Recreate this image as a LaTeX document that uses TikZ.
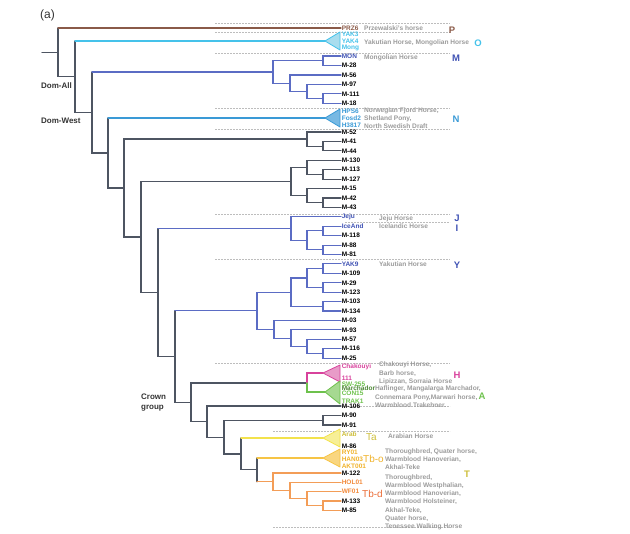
\documentclass[tikz,border=0pt]{standalone}
\usepackage{fontspec}
\setmainfont{Liberation Sans}
\usetikzlibrary{calc}

\definecolor{brn}{HTML}{8A5A48}
\definecolor{cyn}{HTML}{45C2EA}
\definecolor{cynfill}{HTML}{A9DDEE}
\definecolor{blu}{HTML}{5B6CC4}
\definecolor{blutxt}{HTML}{3F52B4}
\definecolor{nblu}{HTML}{3A9AD6}
\definecolor{nfill}{HTML}{78B9E3}
\definecolor{gry}{HTML}{4E5562}
\definecolor{pnk}{HTML}{D8429C}
\definecolor{pnkfill}{HTML}{E89BC8}
\definecolor{grn}{HTML}{6DC14C}
\definecolor{grnfill}{HTML}{A6D991}
\definecolor{yel}{HTML}{F3E24C}
\definecolor{yelfill}{HTML}{F7EF97}
\definecolor{olv}{HTML}{CDBE3A}
\definecolor{gld}{HTML}{F6C445}
\definecolor{gldfill}{HTML}{F9D680}
\definecolor{gldtxt}{HTML}{F0B22A}
\definecolor{org}{HTML}{F39D57}
\definecolor{orgtxt}{HTML}{F28A3C}
\definecolor{tbd}{HTML}{EA6B35}
\definecolor{descgray}{HTML}{9B9B9B}
\definecolor{sepgray}{HTML}{BDBDBD}

\tikzset{
  br/.style={line width=1.1pt, line cap=round},
  tri/.style={line width=0.8pt, line join=round},
  leaf/.style={anchor=west, inner sep=0.6pt, font=\bfseries\fontsize{6.5}{7}\selectfont},
  desc/.style={anchor=north west, inner sep=0pt, align=left, text=descgray, font=\bfseries\fontsize{6.6}{8.2}\selectfont},
  grp/.style={inner sep=0pt, font=\bfseries\fontsize{9.5}{10}\selectfont},
  sub/.style={anchor=west, inner sep=0pt, font=\fontsize{10}{10}\selectfont},
  cladename/.style={anchor=west, inner sep=0pt, text=black!80, font=\bfseries\fontsize{8}{9.5}\selectfont},
  sep/.style={draw=sepgray, line width=0.6pt, dash pattern=on 1.6pt off 1.4pt},
}
% vertical part in #1, horizontal part in #2
\newcommand{\elbow}[4]{\draw[br,#1] (#3) -- (#3 |- #4); \draw[br,#2] (#3 |- #4) -- (#4);}

\begin{document}
\begin{tikzpicture}[x=1pt,y=-1pt]
			\useasboundingbox (0,0) rectangle (630,534);
			%%%%% START %%%%%
			
			\node[anchor=west, inner sep=0pt, text=black!80, font=\fontsize{12}{12}\selectfont] (panel) at (40,15) {(a)};
			\node[cladename] (domall) at (41,86) {Dom-All};
			\node[cladename] (domwest) at (41,121) {Dom-West};
			\node[cladename, align=left] (crown) at (141,402.5) {Crown\\group};
			
			\foreach \y in {23,32,53,108,129,214,259,363} \draw[sep] (215,\y) -- (450,\y);
			\foreach \y in {222} \draw[sep] (345,\y) -- (450,\y);
			\foreach \y in {406,431,527} \draw[sep] (273,\y) -- (450,\y);
			
			% backbone
			\coordinate (stem) at (42,52.4);
			\coordinate (n0) at (58,52.4);
			\coordinate (n1) at (75,76.8);
			\coordinate (n2) at (92,112.5);
			\coordinate (n3) at (108,153);
			\coordinate (n4) at (124,188);
			\coordinate (n5) at (141,237);
			\coordinate (n6) at (158,292.5);
			\coordinate (n7) at (175,356.5);
			\coordinate (n8) at (191,402.3);
			\coordinate (n9) at (207,421.6);
			\coordinate (n10) at (224,437.1);
			\coordinate (n11) at (241,454);
			\coordinate (n12) at (257,469.9);
			
			% clades
			\coordinate (oapex) at (325,41);
			\coordinate (napex) at (325,118);
			\coordinate (hapex) at (323,373);
			\coordinate (gapex) at (325,392);
			\coordinate (aapex) at (323,438);
			\coordinate (tapex) at (323,458);
			\coordinate (mA) at (273,72);
			\coordinate (mB) at (323,60.8);
			\coordinate (mC) at (290,83.2);
			\coordinate (mD) at (307,91.5);
			\coordinate (mE) at (323,98.5);
			\coordinate (kA) at (307,139);
			\coordinate (kB) at (323,146.1);
			\coordinate (pA) at (291,181.5);
			\coordinate (pB) at (307,167.3);
			\coordinate (pC) at (323,174.4);
			\coordinate (pD) at (307,195.6);
			\coordinate (pE) at (323,202.7);
			\coordinate (jA) at (291,228.6);
			\coordinate (jB) at (307,240.3);
			\coordinate (jC) at (323,230.9);
			\coordinate (jD) at (323,249.8);
			\coordinate (yR) at (257,310.7);
			\coordinate (yA) at (291,292.2);
			\coordinate (yB) at (307,278);
			\coordinate (yC) at (323,268.6);
			\coordinate (yD) at (323,287.5);
			\coordinate (yE) at (323,306.3);
			\coordinate (zA) at (274,329.3);
			\coordinate (zB) at (291,338.1);
			\coordinate (zC) at (307,346.4);
			\coordinate (zD) at (323,353.4);
			\coordinate (hA) at (307,383);
			\coordinate (vA) at (323,420.3);
			\coordinate (oA) at (273,481.8);
			\coordinate (oB) at (290,490.5);
			\coordinate (oC) at (307,498.7);
			\coordinate (oD) at (323,505.8);
			
			% tips
			\node[leaf, text=brn] (prz) at (341,28) {PRZ6};
			\node[leaf, text=cyn] (yak3) at (341,34.5) {YAK3};
			\node[leaf, text=cyn] (yak4) at (341,41) {YAK4};
			\node[leaf, text=cyn] (mong) at (341,47.5) {Mong};
			\node[leaf, text=blutxt] (mon) at (341,56) {MON};
			\node[leaf] (m28) at (341,65.5) {M-28};
			\node[leaf] (m56) at (341,75) {M-56};
			\node[leaf] (m97) at (341,84.4) {M-97};
			\node[leaf] (m111) at (341,93.8) {M-111};
			\node[leaf] (m18) at (341,103.2) {M-18};
			\node[leaf, text=nblu] (hps6) at (341,111) {HPS6};
			\node[leaf, text=nblu] (fosd2) at (341,118) {Fosd2};
			\node[leaf, text=nblu] (h3817) at (341,125) {H3817};
			\node[leaf] (m52) at (341,132) {M-52};
			\node[leaf] (m41) at (341,141.4) {M-41};
			\node[leaf] (m44) at (341,150.8) {M-44};
			\node[leaf] (m130) at (341,160.3) {M-130};
			\node[leaf] (m113) at (341,169.7) {M-113};
			\node[leaf] (m127) at (341,179.1) {M-127};
			\node[leaf] (m15) at (341,188.5) {M-15};
			\node[leaf] (m42) at (341,198) {M-42};
			\node[leaf] (m43) at (341,207.4) {M-43};
			\node[leaf, text=blutxt] (jeju) at (341,216.8) {Jeju};
			\node[leaf, text=blutxt] (iceand) at (341,226.2) {IceAnd};
			\node[leaf] (m118) at (341,235.6) {M-118};
			\node[leaf] (m88) at (341,245.1) {M-88};
			\node[leaf] (m81) at (341,254.5) {M-81};
			\node[leaf, text=blutxt] (yak9) at (341,263.9) {YAK9};
			\node[leaf] (m109) at (341,273.3) {M-109};
			\node[leaf] (m29) at (341,282.8) {M-29};
			\node[leaf] (m123) at (341,292.2) {M-123};
			\node[leaf] (m103) at (341,301.6) {M-103};
			\node[leaf] (m134) at (341,311) {M-134};
			\node[leaf] (m03) at (341,320.4) {M-03};
			\node[leaf] (m93) at (341,329.9) {M-93};
			\node[leaf] (m57) at (341,339.3) {M-57};
			\node[leaf] (m116) at (341,348.7) {M-116};
			\node[leaf] (m25) at (341,358.1) {M-25};
			\node[leaf] (m106) at (341,406) {M-106};
			\node[leaf] (m90) at (341,415.5) {M-90};
			\node[leaf] (m91) at (341,425) {M-91};
			\node[leaf] (m122) at (341,473) {M-122};
			\node[leaf, text=orgtxt] (hol) at (341,482.3) {HOL01};
			\node[leaf, text=orgtxt] (wf) at (341,491.7) {WF01};
			\node[leaf] (m133) at (341,501) {M-133};
			\node[leaf] (m85) at (341,510.5) {M-85};
			
			% collapsed clades
			\draw[tri, draw=cyn, fill=cynfill] (oapex) -- (340,32) -- (340,50) -- cycle;
			\draw[tri, draw=nblu, fill=nfill] (napex) -- (340,109) -- (340,127) -- cycle;
			\draw[tri, draw=pnk, fill=pnkfill] (hapex) -- (340,365) -- (340,382) -- cycle;
			\draw[tri, draw=grn, fill=grnfill] (gapex) -- (340,381) -- (340,404) -- cycle;
			\draw[tri, draw=yel, fill=yelfill] (aapex) -- (340,429) -- (340,447) -- cycle;
			\draw[tri, draw=gld, fill=gldfill] (tapex) -- (340,449) -- (340,467) -- cycle;
			
			\node[leaf, text=pnk] (chak) at (341,367) {Chakouyi};
			\node[leaf, text=pnk] (p111) at (341,378) {111};
			\node[leaf, text=grn] (sw255) at (341,384) {SW-255};
			\node[leaf, text=grn!70!black] (march) at (341,388.5) {Marchador};
			\node[leaf, text=grn] (con15) at (341,393) {CON15};
			\node[leaf, text=grn] (trak1) at (341,401) {TRAK1};
			\node[leaf, text=olv] (arab) at (341,434) {Arab};
			\node[leaf] (m86) at (341,446) {M-86};
			\node[leaf, text=gldtxt] (ry01) at (341,452) {RY01};
			\node[leaf, text=gldtxt] (han03) at (341,459) {HAN03};
			\node[leaf, text=gldtxt] (akt) at (341,466) {AKT001};
			
			% branches
			\draw[br,gry] (stem) -- (n0);
			\elbow{gry}{brn}{n0}{prz.west}
			\draw[br,gry] (n0) |- (n1);
			\elbow{gry}{cyn}{n1}{oapex}
			\draw[br,gry] (n1) |- (n2);
			\elbow{gry}{blu}{n2}{mA}
			\draw[br,gry] (n2) |- (n3);
			\elbow{gry}{nblu}{n3}{napex}
			\draw[br,gry] (n3) |- (n4) (n4) |- (kA) (n4) |- (n5) (n5) |- (pA) (n5) |- (n6);
			\elbow{gry}{blu}{n6}{jA}
			\draw[br,gry] (n6) |- (n7);
			\elbow{gry}{blu}{n7}{yR}
			\draw[br,gry] (n7) |- (n8) (n8) |- (hA) (n8) |- (n9) (n9) |- (m106.west) (n9) |- (n10) (n10) |- (vA) (n10) |- (n11);
			\elbow{gry}{yel}{n11}{aapex}
			\draw[br,gry] (n11) |- (n12);
			\elbow{gry}{gld}{n12}{tapex}
			\elbow{gry}{org}{n12}{oA}
			
			\draw[br,blu] (mA) |- (mB) (mA) |- (mC) (mB) |- (mon.west) (mB) |- (m28.west) (mC) |- (m56.west) (mC) |- (mD) (mD) |- (m97.west) (mD) |- (mE) (mE) |- (m111.west) (mE) |- (m18.west);
			\draw[br,gry] (kA) |- (m52.west) (kA) |- (kB) (kB) |- (m41.west) (kB) |- (m44.west);
			\draw[br,gry] (pA) |- (pB) (pA) |- (pD) (pB) |- (m130.west) (pB) |- (pC) (pC) |- (m113.west) (pC) |- (m127.west) (pD) |- (m15.west) (pD) |- (pE) (pE) |- (m42.west) (pE) |- (m43.west);
			\draw[br,blu] (jA) |- (jeju.west) (jA) |- (jB) (jB) |- (jC) (jB) |- (jD) (jC) |- (iceand.west) (jC) |- (m118.west) (jD) |- (m88.west) (jD) |- (m81.west);
			\draw[br,blu] (yR) |- (yA) (yR) |- (zA) (yA) |- (yB) (yA) |- (yE) (yB) |- (yC) (yB) |- (yD) (yC) |- (yak9.west) (yC) |- (m109.west) (yD) |- (m29.west) (yD) |- (m123.west) (yE) |- (m103.west) (yE) |- (m134.west);
			\draw[br,blu] (zA) |- (m03.west) (zA) |- (zB) (zB) |- (m93.west) (zB) |- (zC) (zC) |- (m57.west) (zC) |- (zD) (zD) |- (m116.west) (zD) |- (m25.west);
			\draw[br,pnk] (hA) |- (hapex);
			\draw[br,grn] (hA) |- (gapex);
			\draw[br,gry] (vA) |- (m90.west) (vA) |- (m91.west);
			\draw[br,org] (oA) |- (m122.west) (oA) |- (oB) (oB) |- (hol.west) (oB) |- (oC) (oC) |- (wf.west) (oC) |- (oD) (oD) |- (m133.west) (oD) |- (m85.west);
			
			% breeds
			\node[desc] (dP) at (364,25.3) {Przewalski's horse};
			\node[desc] (dO) at (364,39.3) {Yakutian Horse, Mongolian Horse};
			\node[desc] (dM) at (364,54.3) {Mongolian Horse};
			\node[desc] (dN) at (364,107.3) {Norwegian Fjord Horse,\\Shetland Pony,\\North Swedish Draft};
			\node[desc] (dJ) at (379,215.3) {Jeju Horse};
			\node[desc] (dI) at (379,223.3) {Icelandic Horse};
			\node[desc] (dY) at (379,261.3) {Yakutian Horse};
			\node[desc] (dH) at (379,362) {Chakouyi Horse,\\Barb horse,\\Lipizzan, Sorraia Horse};
			\node[desc] (dA) at (375,386) {Haflinger, Mangalarga Marchador,\\Connemara Pony,Marwari horse,\\Warmblood Trakehner.};
			\node[desc] (dTa) at (388,433.3) {Arabian Horse};
			\node[desc] (dTbo) at (385,448.3) {Thoroughbred, Quater horse,\\Warmblood Hanoverian,\\Akhal-Teke};
			\node[desc] (dTbd) at (385,474.3) {Thoroughbred,\\Warmblood Westphalian,\\Warmblood Hanoverian,\\Warmblood Holsteiner,\\Akhal-Teke,\\Quater horse,\\Tenessee Walking Horse};
			
			% haplogroups
			\node[grp, text=brn] (gP) at (452,30) {P};
			\node[grp, text=cyn] (gO) at (478,43) {O};
			\node[grp, text=blutxt] (gM) at (456,58) {M};
			\node[grp, text=nblu] (gN) at (456,119) {N};
			\node[grp, text=blutxt] (gJ) at (457,218) {J};
			\node[grp, text=blutxt] (gI) at (457,228) {I};
			\node[grp, text=blutxt] (gY) at (457,265) {Y};
			\node[grp, text=pnk] (gH) at (457,375) {H};
			\node[grp, text=grn] (gA) at (482,396) {A};
			\node[grp, text=olv] (gT) at (467,474) {T};
			\node[sub, text=olv] (gTa) at (366,437) {Ta};
			\node[sub, text=gldtxt] (gTbo) at (363,459) {Tb-o};
			\node[sub, text=tbd] (gTbd) at (362,494) {Tb-d};
			
			%%%%% END %%%%%
\end{tikzpicture}
\end{document}
